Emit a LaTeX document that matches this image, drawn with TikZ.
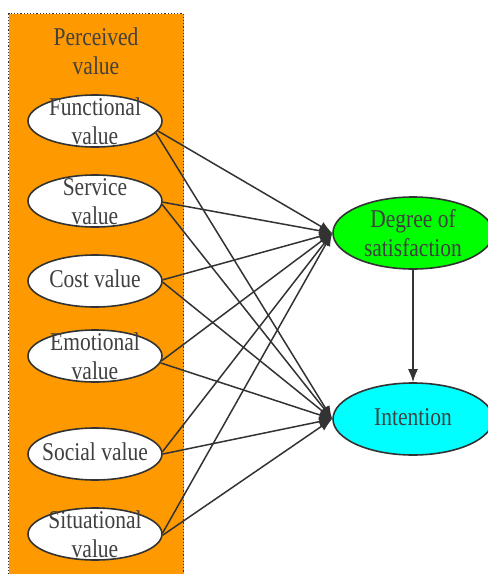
\documentclass[tikz,border=0pt]{standalone}
\usepackage{fontspec}
\setmainfont{Liberation Serif}
\usetikzlibrary{shapes.geometric,arrows.meta}
\definecolor{orangebg}{RGB}{255,153,0}
\definecolor{ink}{RGB}{51,51,51}
\definecolor{txt}{RGB}{64,64,64}
\definecolor{greenfill}{RGB}{0,255,0}
\definecolor{cyanfill}{RGB}{0,255,255}
\newcommand\lbl[1]{\scalebox{1}[1.19]{\begin{tabular}{@{}c@{}}#1\end{tabular}}}
\begin{document}
\begin{tikzpicture}[x=1pt,y=-1pt,
  valbox/.style={ellipse, draw=ink, line width=1.6pt, fill=white, minimum width=134pt, minimum height=52pt, inner sep=0pt},
  bigbox/.style={ellipse, draw=ink, line width=1.6pt, minimum width=160pt, minimum height=72pt, inner sep=0pt},
  lab/.style={inner sep=0pt, text=txt, font=\fontsize{21.5}{25}\selectfont},
  link/.style={draw=ink, line width=1.5pt, -{Latex[length=13pt,width=10pt]}}]
\useasboundingbox (0,0) rectangle (488,574);
\clip (0,0) rectangle (488,574);
\node[draw=ink, dotted, fill=orangebg, minimum width=175pt, minimum height=575pt, anchor=north west, inner sep=0pt, line width=1.2pt] (pv) at (8,13) {};
\node[lab] (pvt) at (96,54) {\lbl{Perceived\\value}};
\node[valbox] (fun) at (95,121) {};
\node[valbox] (ser) at (95,201) {};
\node[valbox] (cost) at (95,281) {};
\node[valbox] (emo) at (95,356) {};
\node[valbox] (soc) at (95,454) {};
\node[valbox] (sit) at (95,534) {};
\node[bigbox, fill=greenfill] (deg) at (413,233) {};
\node[bigbox, fill=cyanfill] (int) at (413,419) {};
\foreach \s/\a/\b in {fun/-9/-11, ser/-1/-3, cost/1/-1, emo/-4/-6, soc/2/0, sit/1/-1}{
  \draw[link] (\s.\a) -- (deg.west);
  \draw[link] (\s.\b) -- (int.west);
}
\draw[link] (deg) -- (int);
\node[lab] (funt) at (95,124) {\lbl{Functional\\value}};
\node[lab] (sert) at (95,204) {\lbl{Service\\value}};
\node[lab] (costt) at (95,282) {\lbl{Cost value}};
\node[lab] (emot) at (95,359) {\lbl{Emotional\\value}};
\node[lab] (soct) at (95,455) {\lbl{Social value}};
\node[lab] (sitt) at (95,537) {\lbl{Situational\\value}};
\node[lab] (degt) at (413,236) {\lbl{Degree of\\satisfaction}};
\node[lab] (intt) at (413,420) {\lbl{Intention}};
\end{tikzpicture}
\end{document}
